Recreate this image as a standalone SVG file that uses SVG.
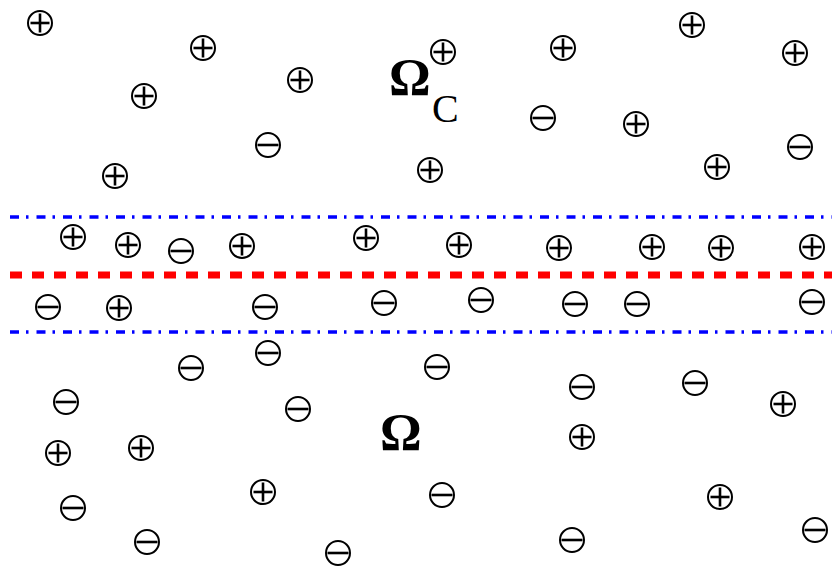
<svg xmlns="http://www.w3.org/2000/svg" xmlns:xlink="http://www.w3.org/1999/xlink" width="832" height="566" viewBox="0 0 832 566">
<style>
.ion circle{fill:none;stroke:#000;stroke-width:2}
.ion line{stroke:#000;stroke-width:2.6}
.lbl{font-family:"Liberation Serif","Times New Roman",serif;fill:#000}
.blue{stroke:#0000ff;stroke-width:3.5;stroke-dasharray:9 7 2.5 8;fill:none}
.red{stroke:#ff0000;stroke-width:7;stroke-dasharray:12 10;fill:none}
</style>
<defs>
<g id="p" class="ion"><circle r="12"/><line x1="-9.5" y1="0" x2="9.5" y2="0"/><line x1="0" y1="-9.5" x2="0" y2="9.5"/></g>
<g id="m" class="ion"><circle r="12"/><line x1="-10.5" y1="0" x2="10.5" y2="0"/></g>
</defs>
<rect width="832" height="566" fill="#fff"/>
<g id="boundaries">
<line class="blue" x1="10" y1="217" x2="832" y2="217"/>
<line class="red" x1="10" y1="275" x2="832" y2="275"/>
<line class="blue" x1="10" y1="332" x2="832" y2="332"/>
</g>
<g id="labels">
<text class="lbl" x="389" y="95" font-size="52" font-weight="bold">Ω</text>
<text class="lbl" x="432" y="122" font-size="40">C</text>
<text class="lbl" x="380" y="450" font-size="52" font-weight="bold">Ω</text>
</g>
<g id="ions">
<use href="#p" x="40" y="23"/>
<use href="#p" x="203" y="48"/>
<use href="#p" x="144" y="96"/>
<use href="#p" x="300" y="80"/>
<use href="#p" x="443" y="52"/>
<use href="#p" x="563" y="48"/>
<use href="#p" x="692" y="25"/>
<use href="#p" x="795" y="53"/>
<use href="#m" x="268" y="145"/>
<use href="#m" x="543" y="118"/>
<use href="#p" x="636" y="124"/>
<use href="#p" x="717" y="167"/>
<use href="#m" x="800" y="147"/>
<use href="#p" x="115" y="176"/>
<use href="#p" x="430" y="170"/>
<use href="#p" x="73" y="237"/>
<use href="#p" x="128" y="245"/>
<use href="#m" x="181" y="251"/>
<use href="#p" x="242" y="246"/>
<use href="#p" x="366" y="238"/>
<use href="#p" x="459" y="245"/>
<use href="#p" x="559" y="248"/>
<use href="#p" x="652" y="247"/>
<use href="#p" x="721" y="248"/>
<use href="#p" x="812" y="247"/>
<use href="#m" x="48" y="307"/>
<use href="#p" x="119" y="308"/>
<use href="#m" x="265" y="307"/>
<use href="#m" x="384" y="303"/>
<use href="#m" x="481" y="300"/>
<use href="#m" x="575" y="304"/>
<use href="#m" x="637" y="304"/>
<use href="#m" x="812" y="302"/>
<use href="#m" x="268" y="353"/>
<use href="#m" x="191" y="368"/>
<use href="#m" x="66" y="402"/>
<use href="#p" x="58" y="453"/>
<use href="#p" x="141" y="448"/>
<use href="#m" x="73" y="508"/>
<use href="#m" x="147" y="542"/>
<use href="#p" x="263" y="492"/>
<use href="#m" x="298" y="409"/>
<use href="#m" x="437" y="367"/>
<use href="#m" x="442" y="495"/>
<use href="#m" x="338" y="553"/>
<use href="#m" x="582" y="387"/>
<use href="#p" x="582" y="437"/>
<use href="#m" x="695" y="383"/>
<use href="#p" x="783" y="404"/>
<use href="#p" x="720" y="497"/>
<use href="#m" x="572" y="540"/>
<use href="#m" x="815" y="530"/>
</g>
</svg>
